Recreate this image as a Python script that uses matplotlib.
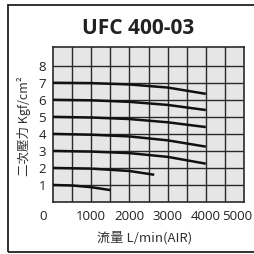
import matplotlib
matplotlib.use("Agg")
import matplotlib.pyplot as plt
from matplotlib.patches import Rectangle
import matplotlib.transforms as mtransforms

plt.rcParams['font.family'] = ['Noto Sans CJK TC', 'DejaVu Sans']

title = "UFC 400-03"
xlabel = "流量 L/min(AIR)"
ylabel = "二次壓力 Kgf/cm²"
xticks = [0, 1000, 2000, 3000, 4000, 5000]
yticks = [1, 2, 3, 4, 5, 6, 7, 8]

curves = {
    7: ([0, 1000, 2000, 3000, 4000], [7.0, 6.98, 6.9, 6.72, 6.35]),
    6: ([0, 1000, 2000, 3000, 4000], [6.0, 5.97, 5.88, 5.7, 5.4]),
    5: ([0, 1000, 2000, 3000, 4000], [5.0, 4.96, 4.87, 4.68, 4.4]),
    4: ([0, 1000, 2000, 3000, 4000], [4.0, 3.95, 3.85, 3.62, 3.25]),
    3: ([0, 1000, 2000, 3000, 4000], [3.0, 2.96, 2.87, 2.65, 2.25]),
    2: ([0, 1000, 2000, 2650], [2.0, 1.96, 1.82, 1.6]),
    1: ([0, 500, 1000, 1500], [1.0, 0.97, 0.87, 0.7]),
}

W = H = 254
fig = plt.figure(figsize=(2.54, 2.54), dpi=100)
fig.patch.set_facecolor('white')

# outer frame
fig.patches.append(Rectangle((8 / W, 1 - 252 / H), 260 / W, 247 / H,
                             transform=fig.transFigure, fill=False,
                             edgecolor='#222222', linewidth=1.3))

ax = fig.add_axes([53 / W, 1 - 202 / H, 191 / W, 155 / H])
ax.set_facecolor('#e6e6e6')
ax.set_xlim(0, 5000)
ax.set_ylim(0, 9.1)

for x in range(500, 5000, 500):
    ax.axvline(x, color='#2a2a2a', lw=1.0, zorder=1)
for y in yticks:
    ax.axhline(y, color='#2a2a2a', lw=1.0, zorder=1)
for s in ax.spines.values():
    s.set_color('#2a2a2a')
    s.set_linewidth(1.2)

for k, (xs, ys) in curves.items():
    ax.plot(xs, ys, color='#111111', lw=1.8, zorder=3, solid_capstyle='butt')

ax.set_xticks(xticks)
ax.set_xticklabels([str(v) for v in xticks])
ax.set_yticks(yticks)
ax.set_yticklabels([str(v) for v in yticks])
ax.tick_params(length=0, labelsize=9.5, colors='#222222', pad=5)
ax.tick_params(axis='x', pad=6)
for lab in ax.get_yticklabels():
    lab.set_family(['Open Sans', 'DejaVu Sans'])
for i, lab in enumerate(ax.get_xticklabels()):
    lab.set_family(['Open Sans', 'DejaVu Sans'])
    if i == 0:
        lab.set_transform(lab.get_transform() + mtransforms.ScaledTranslation(-10 / 100, 0, fig.dpi_scale_trans))
    if i == len(xticks) - 1:
        lab.set_transform(lab.get_transform() + mtransforms.ScaledTranslation(-7 / 100, 0, fig.dpi_scale_trans))

fig.text(138 / W, 1 - 29 / H, title, ha='center', va='center', fontsize=15,
         fontweight='bold', family=['Open Sans', 'DejaVu Sans'], color='#222222')
fig.text(145 / W, 1 - 238 / H, xlabel, ha='center', va='center', fontsize=9.5,
         color='#333333')
fig.text(24 / W, 1 - 126 / H, ylabel, ha='center', va='center', fontsize=9,
         rotation=90, color='#333333')

fig.savefig('out.png', dpi=100, facecolor='white')
